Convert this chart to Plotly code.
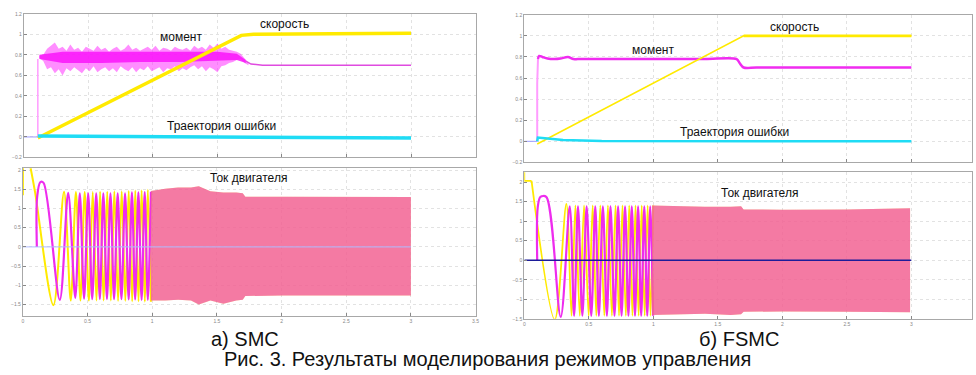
import plotly.graph_objects as go

# ================= DATA =================
# --- top-left (SMC): speed / torque / error ---
smc_speed_t = [0.108, 1.685, 1.78, 3.0]
smc_speed_v = [-0.01, 0.99, 1.0, 1.01]

smc_ref_t = [0.0, 0.108]
smc_ref_v = [0.0, 0.0]

smc_torque_step_t = [0.108, 0.108]
smc_torque_step_v = [0.0, 0.76]

smc_torque_band_t = [0.12, 0.15, 0.18, 0.21, 0.24, 0.27, 0.30, 0.33, 0.36, 0.39,
                     0.42, 0.45, 0.48, 0.51, 0.54, 0.57, 0.60, 0.63, 0.66, 0.69,
                     0.72, 0.75, 0.78, 0.81, 0.84, 0.87, 0.90, 0.93, 0.96, 0.99,
                     1.02, 1.05, 1.08, 1.11, 1.14, 1.17, 1.20, 1.23, 1.26, 1.29,
                     1.32, 1.35, 1.38, 1.41, 1.44, 1.47, 1.50, 1.53, 1.56, 1.59,
                     1.62, 1.65, 1.68, 1.71, 1.74]
smc_torque_hi = [0.79, 0.80, 0.86, 0.89, 0.92, 0.86, 0.88, 0.84, 0.90, 0.85,
                 0.87, 0.83, 0.88, 0.86, 0.84, 0.89, 0.85, 0.87, 0.83, 0.86,
                 0.88, 0.84, 0.86, 0.90, 0.85, 0.87, 0.84, 0.86, 0.88, 0.85,
                 0.89, 0.84, 0.87, 0.86, 0.84, 0.88, 0.86, 0.85, 0.87, 0.84,
                 0.89, 0.86, 0.88, 0.85, 0.90, 0.87, 0.91, 0.86, 0.88, 0.85,
                 0.84, 0.83, 0.81, 0.76, 0.72]
smc_torque_lo = [0.77, 0.74, 0.66, 0.68, 0.62, 0.66, 0.60, 0.67, 0.64, 0.68,
                 0.65, 0.62, 0.67, 0.64, 0.69, 0.63, 0.66, 0.68, 0.64, 0.67,
                 0.63, 0.69, 0.66, 0.64, 0.68, 0.63, 0.67, 0.65, 0.69, 0.64,
                 0.66, 0.68, 0.63, 0.67, 0.66, 0.69, 0.64, 0.67, 0.65, 0.68,
                 0.70, 0.66, 0.69, 0.64, 0.68, 0.66, 0.63, 0.69, 0.70, 0.72,
                 0.73, 0.75, 0.76, 0.72, 0.70]
smc_torque_core_t = [0.12, 0.30, 0.60, 0.90, 1.20, 1.50, 1.65, 1.72]
smc_torque_core_hi = [0.80, 0.83, 0.83, 0.83, 0.83, 0.83, 0.81, 0.75]
smc_torque_core_lo = [0.76, 0.72, 0.72, 0.73, 0.73, 0.74, 0.75, 0.72]
smc_torque_end_t = [1.72, 1.76, 1.85, 3.0]
smc_torque_end_v = [0.74, 0.71, 0.70, 0.70]

smc_err_t = [0.108, 1.0, 2.0, 3.0]
smc_err_v = [0.01, 0.005, -0.005, -0.01]

# --- top-right (FSMC) ---
fsmc_speed_t = [0.10, 1.70, 3.0]
fsmc_speed_v = [-0.025, 1.0, 1.0]

fsmc_ref_t = [0.0, 0.10]
fsmc_ref_v = [0.0, 0.0]

fsmc_torque_step_t = [0.10, 0.10, 0.106]
fsmc_torque_step_v = [0.0, 0.55, 0.78]
fsmc_torque_t = [0.106, 0.115, 0.14, 0.18, 0.236, 0.28, 0.338, 0.38, 0.415,
                 0.6, 1.0, 1.4, 1.646, 1.67, 1.70, 1.8, 2.4, 3.0]
fsmc_torque_v = [0.78, 0.81, 0.80, 0.785, 0.78, 0.785, 0.80, 0.78, 0.78,
                 0.78, 0.78, 0.78, 0.78, 0.74, 0.70, 0.70, 0.70, 0.70]

fsmc_err_t = [0.10, 0.105, 0.16, 0.30, 0.60, 3.0]
fsmc_err_v = [0.0, 0.035, 0.03, 0.012, 0.003, 0.0]

# --- bottom-left (SMC) motor currents ---
smc_ia_t = [0.108, 0.110, 0.135, 0.160, 0.285, 0.350, 0.405, 0.440, 0.473, 0.505,
            0.536, 0.567, 0.595, 0.622, 0.650, 0.677, 0.705, 0.733, 0.762, 0.790,
            0.818, 0.843, 0.868, 0.893, 0.918, 0.942, 0.966, 0.990]
smc_ia_v = [0.0, 1.3, 1.69, 1.67, -1.38, 1.41, -1.33, 1.40, -1.35, 1.40,
            -1.36, 1.40, -1.36, 1.40, -1.36, 1.40, -1.36, 1.40, -1.36, 1.40,
            -1.37, 1.42, -1.37, 1.42, -1.38, 1.43, -1.38, 1.44]
smc_ib_head_t = [0.0, 0.0, 0.045, 0.06]
smc_ib_head_v = [1.35, 2.4, 2.4, 2.05]
smc_ib_t = [0.06, 0.095, 0.236, 0.318, 0.370, 0.410, 0.445, 0.478, 0.510, 0.540,
            0.569, 0.597, 0.624, 0.652, 0.680, 0.707, 0.736, 0.764, 0.792, 0.818,
            0.845, 0.869, 0.894, 0.918, 0.943, 0.966, 0.990]
smc_ib_v = [2.05, 1.41, -1.52, 1.44, -1.40, 1.43, -1.40, 1.43, -1.40, 1.43,
            -1.40, 1.44, -1.40, 1.44, -1.40, 1.45, -1.41, 1.45, -1.41, 1.46,
            -1.42, 1.47, -1.42, 1.48, -1.43, 1.49, -1.43]
smc_band_t = [0.99, 1.10, 1.20, 1.30, 1.36, 1.45, 1.55, 1.65, 1.70, 1.72, 2.0, 2.5, 3.0]
smc_band_hi = [1.46, 1.52, 1.55, 1.55, 1.58, 1.45, 1.42, 1.42, 1.40, 1.31, 1.31, 1.30, 1.30]
smc_band_lo = [-1.40, -1.40, -1.38, -1.40, -1.50, -1.40, -1.48, -1.40, -1.38, -1.28, -1.27, -1.27, -1.27]
smc_zero_t = [0.0, 3.0]
smc_zero_v = [0.0, 0.0]

# --- bottom-right (FSMC) motor currents ---
fsmc_ia_t = [0.100, 0.104, 0.125, 0.170, 0.282, 0.352, 0.386, 0.416, 0.450, 0.483,
             0.519, 0.550, 0.578, 0.609, 0.640, 0.668, 0.699, 0.727, 0.754, 0.781,
             0.807, 0.833, 0.858, 0.882, 0.906, 0.930, 0.953, 0.976, 0.998]
fsmc_ia_v = [0.0, 1.35, 1.62, 1.62, -1.45, 1.38, -1.42, 1.38, -1.42, 1.38,
             -1.42, 1.38, -1.42, 1.38, -1.42, 1.38, -1.42, 1.38, -1.42, 1.38,
             -1.42, 1.38, -1.42, 1.38, -1.42, 1.38, -1.42, 1.38, -1.42]
fsmc_ib_head_t = [0.0, 0.0, 0.056]
fsmc_ib_head_v = [2.3, 2.03, 2.03]
fsmc_ib_t = [0.056, 0.236, 0.326, 0.366, 0.396, 0.430, 0.463, 0.499, 0.530, 0.558,
             0.589, 0.620, 0.648, 0.679, 0.707, 0.734, 0.761, 0.787, 0.813, 0.838,
             0.862, 0.886, 0.910, 0.933, 0.956, 0.978, 1.000]
fsmc_ib_v = [2.03, -1.52, 1.44, -1.42, 1.40, -1.42, 1.40, -1.42, 1.40, -1.42,
             1.40, -1.42, 1.40, -1.42, 1.40, -1.42, 1.40, -1.42, 1.40, -1.42,
             1.40, -1.42, 1.40, -1.42, 1.40, -1.42, 1.40]
fsmc_band_t = [0.99, 1.2, 1.4, 1.6, 1.68, 1.70, 2.0, 2.5, 2.99]
fsmc_band_hi = [1.40, 1.38, 1.37, 1.37, 1.38, 1.30, 1.29, 1.30, 1.33]
fsmc_band_lo = [-1.40, -1.38, -1.37, -1.40, -1.38, -1.32, -1.31, -1.32, -1.33]
fsmc_zero_t = [0.0, 3.0]
fsmc_zero_v = [0.0, 0.0]

# --- texts ---
label_speed = "скорость"
label_torque = "момент"
label_error = "Траектория ошибки"
label_current = "Ток двигателя"
caption_a = "а) SMC"
caption_b = "б) FSMC"
caption_main = "Рис. 3. Результаты моделирования режимов управления"

top_ticks = [-0.2, 0, 0.2, 0.4, 0.6, 0.8, 1, 1.2]
bot_ticks = [-1.5, -1, -0.5, 0, 0.5, 1, 1.5, 2]
x_ticks = [0, 0.5, 1, 1.5, 2, 2.5, 3, 3.5]

# ================= STYLE =================
PALE = "#ff9cff"
YEL = "#ffea00"
CYAN = "#1fdcf5"
FONT = "Liberation Sans, Arial, sans-serif"

fig = go.Figure()


def line(x, y, ax, color, width, shape="linear", opacity=1.0):
    fig.add_trace(go.Scatter(x=x, y=y, xaxis=ax[0], yaxis=ax[1], mode="lines",
                             line=dict(color=color, width=width, shape=shape,
                                       smoothing=0.9 if shape == "spline" else None),
                             opacity=opacity, hoverinfo="skip", showlegend=False))


def band(x, hi, lo, ax, fillcolor):
    fig.add_trace(go.Scatter(x=x, y=hi, xaxis=ax[0], yaxis=ax[1], mode="lines",
                             line=dict(width=0, color=fillcolor), hoverinfo="skip",
                             showlegend=False))
    fig.add_trace(go.Scatter(x=x, y=lo, xaxis=ax[0], yaxis=ax[1], mode="lines",
                             line=dict(width=0, color=fillcolor), fill="tonexty",
                             fillcolor=fillcolor, hoverinfo="skip", showlegend=False))


TL = ("x", "y")
BL = ("x2", "y2")
TR = ("x3", "y3")
BR = ("x4", "y4")

# top-left
line(smc_ref_t, smc_ref_v, TL, "#9b9bff", 1)
line(smc_torque_step_t, smc_torque_step_v, TL, PALE, 1.5)
band(smc_torque_band_t, smc_torque_hi, smc_torque_lo, TL, "rgba(255,50,255,0.55)")
band(smc_torque_core_t, smc_torque_core_hi, smc_torque_core_lo, TL, "rgba(250,20,250,0.85)")
line(smc_torque_end_t, smc_torque_end_v, TL, "#e04be0", 1.5)
line(smc_speed_t, smc_speed_v, TL, YEL, 3.5)
line(smc_err_t, smc_err_v, TL, CYAN, 3.5)

# top-right
line(fsmc_ref_t, fsmc_ref_v, TR, "#9b9bff", 1)
line(fsmc_torque_step_t, fsmc_torque_step_v, TR, PALE, 2)
line(fsmc_torque_t, fsmc_torque_v, TR, "#f02cf0", 2.5, shape="spline")
line(fsmc_speed_t, fsmc_speed_v, TR, YEL, 1.6)
line(fsmc_speed_t[1:], fsmc_speed_v[1:], TR, YEL, 2.8)
line(fsmc_err_t, fsmc_err_v, TR, CYAN, 2.5)

# bottom-left
line(smc_ib_head_t, smc_ib_head_v, BL, YEL, 2)
line(smc_ib_t, smc_ib_v, BL, YEL, 2, shape="spline")
line(smc_ia_t, smc_ia_v, BL, "#ee2cee", 2.2, shape="spline")
band(smc_band_t, smc_band_hi, smc_band_lo, BL, "rgba(255,225,60,0.7)")
band(smc_band_t, smc_band_hi, smc_band_lo, BL, "rgba(235,30,200,0.55)")
line(smc_zero_t, smc_zero_v, BL, "#b0bcff", 1)

# bottom-right
line(fsmc_ib_head_t, fsmc_ib_head_v, BR, YEL, 1.8)
line(fsmc_ib_t, fsmc_ib_v, BR, YEL, 1.8, shape="spline")
line(fsmc_ia_t, fsmc_ia_v, BR, "#ee2cee", 2.2, shape="spline")
band(fsmc_band_t, fsmc_band_hi, fsmc_band_lo, BR, "rgba(255,225,60,0.7)")
band(fsmc_band_t, fsmc_band_hi, fsmc_band_lo, BR, "rgba(235,30,200,0.55)")
line(fsmc_zero_t, fsmc_zero_v, BR, "#1c1c9a", 1.5)

W, H = 976, 375


def xdom(a, b):
    return [a / W, b / W]


def ydom(top, bottom):
    return [1 - bottom / H, 1 - top / H]


axis_common = dict(showline=True, mirror=True, linecolor="#a8a8a8", linewidth=1,
                   ticks="inside", ticklen=3, tickcolor="#888", showgrid=True,
                   gridcolor="#e2e2e2", griddash="dot", gridwidth=1, zeroline=False,
                   tickfont=dict(size=5, color="#888", family=FONT))

fig.update_layout(
    width=W, height=H, autosize=False,
    margin=dict(l=0, r=0, t=0, b=0),
    paper_bgcolor="white", plot_bgcolor="white",
    xaxis=dict(domain=xdom(23, 477), range=[0, 3.5], tickvals=x_ticks,
               showticklabels=False, anchor="y", **axis_common),
    yaxis=dict(domain=ydom(11, 157), range=[-0.2, 1.2], tickvals=top_ticks,
               anchor="x", **axis_common),
    xaxis2=dict(domain=xdom(22, 477), range=[0, 3.5], tickvals=x_ticks,
                anchor="y2", **axis_common),
    yaxis2=dict(domain=ydom(168, 318), range=[-1.8, 2.05], tickvals=bot_ticks,
                anchor="x2", **axis_common),
    xaxis3=dict(domain=xdom(526, 976), range=[0, 3.47], tickvals=x_ticks,
                showticklabels=False, anchor="y3", **axis_common),
    yaxis3=dict(domain=ydom(12, 162), range=[-0.2, 1.2], tickvals=top_ticks,
                anchor="x3", **axis_common),
    xaxis4=dict(domain=xdom(526, 976), range=[0, 3.47], tickvals=x_ticks,
                anchor="y4", **axis_common),
    yaxis4=dict(domain=ydom(172, 321), range=[-1.5, 2.25], tickvals=bot_ticks,
                anchor="x4", **axis_common),
)

lab_font = dict(family=FONT, size=12, color="#111")
annots = [
    (label_speed, "x", "y", 2.02, 1.10),
    (label_torque, "x", "y", 1.218, 0.97),
    (label_error, "x", "y", 1.534, 0.107),
    (label_current, "x2", "y2", 1.746, 1.79),
    (label_speed, "x3", "y3", 2.097, 1.08),
    (label_torque, "x3", "y3", 0.995, 0.865),
    (label_error, "x3", "y3", 1.627, 0.09),
    (label_current, "x4", "y4", 1.82, 1.72),
]
for text, xr, yr, xv, yv in annots:
    fig.add_annotation(text=text, xref=xr, yref=yr, x=xv, y=yv, showarrow=False,
                       font=lab_font, xanchor="center", yanchor="middle")

cap_font = dict(family=FONT, size=20, color="#111")
fig.add_annotation(text=caption_a, xref="paper", yref="paper", x=245 / W, y=1 - 341 / H,
                   showarrow=False, font=cap_font, xanchor="center", yanchor="middle")
fig.add_annotation(text=caption_b, xref="paper", yref="paper", x=742 / W, y=1 - 341 / H,
                   showarrow=False, font=cap_font, xanchor="center", yanchor="middle")
fig.add_annotation(text=caption_main, xref="paper", yref="paper", x=489 / W, y=1 - 362 / H,
                   showarrow=False, font=cap_font, xanchor="center", yanchor="middle")

fig.write_html("out.html", config={"displayModeBar": False, "staticPlot": True},
               post_script="document.body.style.margin='0';document.body.style.overflow='hidden';")
